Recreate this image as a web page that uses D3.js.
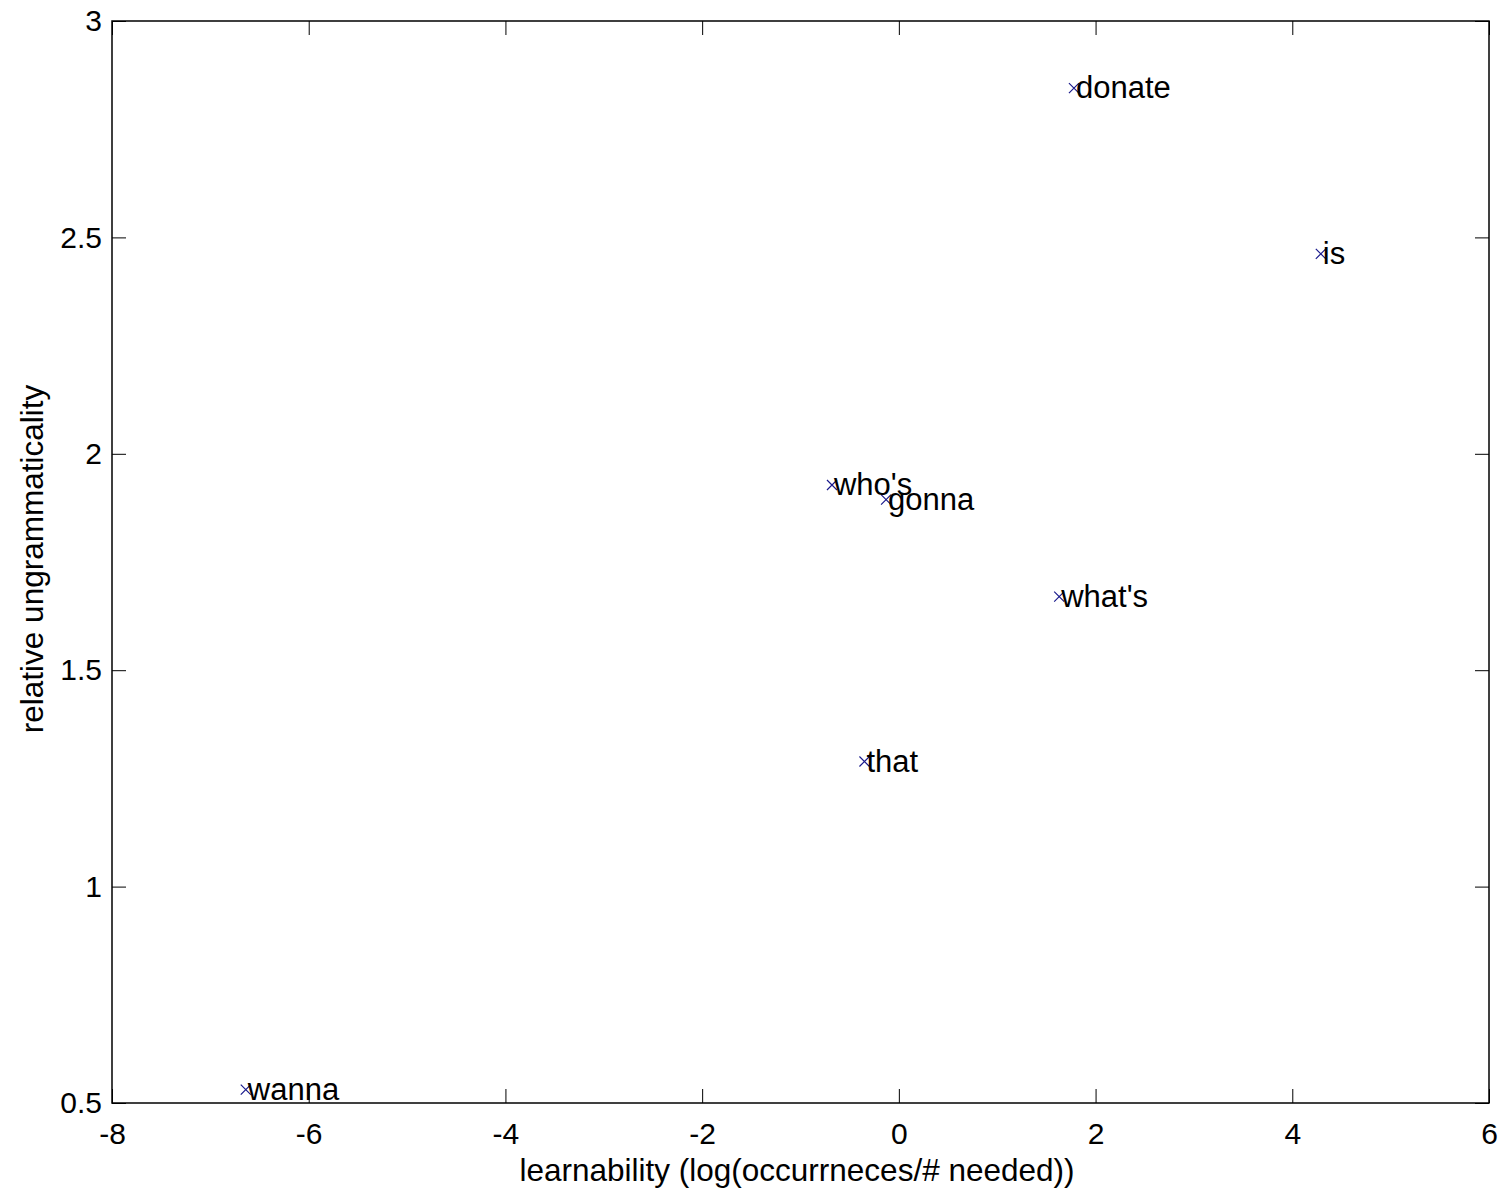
<!DOCTYPE html>
<html>
<head>
<meta charset="utf-8">
<script src="https://cdn.jsdelivr.net/npm/d3@7"></script>
<style>
  body { margin: 0; background: #fff; }
  text { font-family: "Liberation Sans", Arial, sans-serif; }
</style>
</head>
<body>
<script>
// words and their learnability / ungrammaticality values
var words = ["donate", "is", "who's", "gonna", "what's", "that", "wanna"];
var learnability = [1.78, 4.29, -0.68, -0.13, 1.63, -0.35, -6.64];
var ungrammaticality = [2.845, 2.462, 1.928, 1.894, 1.670, 1.289, 0.531];

var xTicks = [-8, -6, -4, -2, 0, 2, 4, 6];
var yTicks = [0.5, 1, 1.5, 2, 2.5, 3];

var width = 1505,
    height = 1191;

var margin = {left: 112, right: 16, top: 21, bottom: 88};

var svg = d3.select('body')
  .append('svg')
  .attr('width', width)
  .attr('height', height);

var x = d3.scaleLinear()
  .domain([-8, 6])
  .range([margin.left, width - margin.right]);

var y = d3.scaleLinear()
  .domain([0.5, 3])
  .range([height - margin.bottom, margin.top]);

var tickLen = 14;
var tickFont = 30;

// plain hyphen for negatives, like the original
var fmt = function(d) { return String(d); };

// bottom and left axes with inward ticks
svg.append('g')
  .attr('transform', 'translate(0,' + y(0.5) + ')')
  .call(d3.axisBottom(x).tickValues(xTicks).tickSizeInner(-tickLen).tickSizeOuter(0).tickPadding(20).tickFormat(fmt))
  .call(function(g) {
    g.select('.domain').remove();
    g.selectAll('text').attr('font-size', tickFont).attr('fill', '#000')
      .attr('font-family', '"Liberation Sans", Arial, sans-serif');
    g.selectAll('line').attr('stroke', '#000');
  });

svg.append('g')
  .attr('transform', 'translate(' + x(-8) + ',0)')
  .call(d3.axisLeft(y).tickValues(yTicks).tickSizeInner(-tickLen).tickSizeOuter(0).tickPadding(10).tickFormat(fmt))
  .call(function(g) {
    g.select('.domain').remove();
    g.selectAll('text').attr('font-size', tickFont).attr('fill', '#000')
      .attr('font-family', '"Liberation Sans", Arial, sans-serif');
    g.selectAll('line').attr('stroke', '#000');
  });

// top and right ticks (no labels)
svg.append('g')
  .attr('transform', 'translate(0,' + y(3) + ')')
  .call(d3.axisTop(x).tickValues(xTicks).tickSizeInner(-tickLen).tickSizeOuter(0).tickFormat(''))
  .call(function(g) {
    g.select('.domain').remove();
    g.selectAll('line').attr('stroke', '#000');
  });

svg.append('g')
  .attr('transform', 'translate(' + x(6) + ',0)')
  .call(d3.axisRight(y).tickValues(yTicks).tickSizeInner(-tickLen).tickSizeOuter(0).tickFormat(''))
  .call(function(g) {
    g.select('.domain').remove();
    g.selectAll('line').attr('stroke', '#000');
  });

// box
svg.append('rect')
  .attr('x', x(-8))
  .attr('y', y(3))
  .attr('width', x(6) - x(-8))
  .attr('height', y(0.5) - y(3))
  .attr('fill', 'none')
  .attr('stroke', '#000')
  .attr('stroke-width', 1.5);

var data = words.map(function(w, i) {
  return {name: w, lx: learnability[i], ug: ungrammaticality[i]};
});

// x markers
var s = 5;
svg.append('g')
  .selectAll('path')
  .data(data)
  .enter()
  .append('path')
  .attr('d', function(d) {
    var cx = x(d.lx), cy = y(d.ug);
    return 'M' + (cx - s) + ',' + (cy - s) + 'L' + (cx + s) + ',' + (cy + s) +
           'M' + (cx - s) + ',' + (cy + s) + 'L' + (cx + s) + ',' + (cy - s);
  })
  .attr('stroke', '#1a1a8c')
  .attr('stroke-width', 1.2)
  .attr('fill', 'none');

// labels
svg.append('g')
  .selectAll('text')
  .data(data)
  .enter()
  .append('text')
  .attr('x', function(d) { return x(d.lx) + 2; })
  .attr('y', function(d) { return y(d.ug); })
  .attr('dy', '0.33em')
  .attr('font-size', 31)
  .attr('fill', '#000')
  .text(function(d) { return d.name; });

// axis titles
svg.append('text')
  .attr('x', 797)
  .attr('y', 1181)
  .attr('text-anchor', 'middle')
  .attr('font-size', 31.5)
  .attr('fill', '#000')
  .text('learnability (log(occurrneces/# needed))');

svg.append('text')
  .attr('transform', 'translate(43,' + 559 + ') rotate(-90)')
  .attr('text-anchor', 'middle')
  .attr('font-size', 31.5)
  .attr('fill', '#000')
  .text('relative ungrammaticality');
</script>
</body>
</html>
